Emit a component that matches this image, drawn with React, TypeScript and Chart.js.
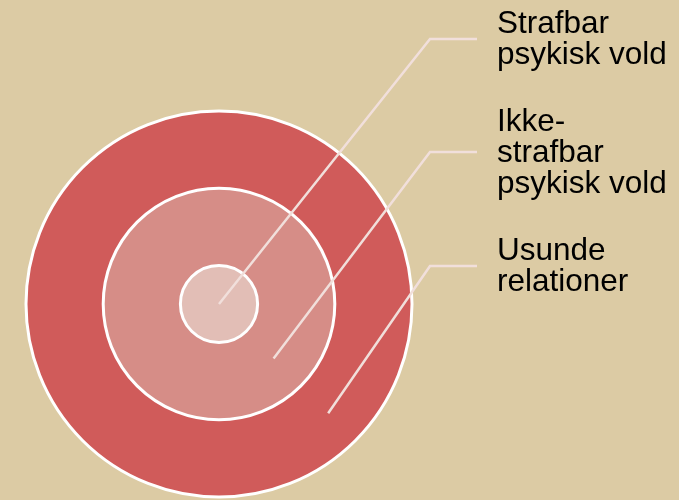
import React, { useEffect, useRef } from "react";
import { Chart, registerables } from "chart.js";

Chart.register(...registerables);

// Rings, from the outermost to the innermost
const ringNames = ["Usunde relationer", "Ikke-strafbar psykisk vold", "Strafbar psykisk vold"];
const ringLabelLines = [["Usunde", "relationer"], ["Ikke-", "strafbar", "psykisk vold"], ["Strafbar", "psykisk vold"]];
const ringValues = [1, 1, 1];
const ringWeights = [2, 2, 1];
const ringColors = ["#d05b5a", "#d68d87", "#e2beb6"];

const BG = "#dccba4";
const LINE_COLOR = "#f1dfdb";
const ELBOW_Y = [266, 152, 39];
const ELBOW_X = 430;
const LINE_END_X = 477;
const TEXT_X = 497;
const FONT_SIZE = 31.5;
const LINE_HEIGHT = 31;

const leaderPlugin = {
  id: "leaders",
  afterDatasetsDraw(chart: any) {
    const ctx = chart.ctx;
    ctx.save();
    // white ring borders
    ringNames.forEach((_, i) => {
      const arc = chart.getDatasetMeta(i).data[0];
      if (!arc) return;
      const { x, y, outerRadius } = arc.getProps(["x", "y", "outerRadius"], true);
      ctx.strokeStyle = "#ffffff";
      ctx.lineWidth = 3;
      ctx.beginPath();
      ctx.arc(x, y, outerRadius, 0, Math.PI * 2);
      ctx.stroke();
    });
    ringNames.forEach((_, i) => {
      const arc = chart.getDatasetMeta(i).data[0];
      if (!arc) return;
      const { x, y, innerRadius, outerRadius } = arc.getProps(["x", "y", "innerRadius", "outerRadius"], true);
      const r = i === ringNames.length - 1 ? 0 : (innerRadius + outerRadius) / 2;
      const a = Math.PI / 4;
      const sx = x + r * Math.cos(a);
      const sy = y + r * Math.sin(a);
      ctx.strokeStyle = LINE_COLOR;
      ctx.lineWidth = 2.5;
      ctx.lineCap = "butt";
      ctx.lineJoin = "miter";
      ctx.beginPath();
      ctx.moveTo(sx, sy);
      ctx.lineTo(ELBOW_X, ELBOW_Y[i]);
      ctx.lineTo(LINE_END_X, ELBOW_Y[i]);
      ctx.stroke();

      const lines = ringLabelLines[i];
      ctx.fillStyle = "#000000";
      ctx.font = `${FONT_SIZE}px "Liberation Sans", Arial, sans-serif`;
      ctx.textAlign = "left";
      ctx.textBaseline = "alphabetic";
      const mid = ELBOW_Y[i] + 9.5;
      lines.forEach((t, k) => {
        const by = mid + (k - (lines.length - 1) / 2) * LINE_HEIGHT;
        ctx.fillText(t, TEXT_X, by);
      });
    });
    ctx.restore();
  },
};

export default function App() {
  const ref = useRef<HTMLCanvasElement>(null);
  useEffect(() => {
    if (!ref.current) return;
    const chart = new Chart(ref.current, {
      type: "doughnut",
      data: {
        labels: ["ring"],
        datasets: ringNames.map((name, i) => ({
          label: name,
          data: [ringValues[i]],
          weight: ringWeights[i],
          backgroundColor: [ringColors[i]],
          borderWidth: 0,
        })) as any,
      },
      options: {
        responsive: false,
        animation: false,
        events: [],
        cutout: 0,
        radius: 193,
        layout: { padding: { left: 119, right: 360, top: 204, bottom: 96 } },
        plugins: {
          legend: { display: false },
          tooltip: { enabled: false },
          title: { display: false },
        },
      } as any,
      plugins: [leaderPlugin],
    });
    return () => chart.destroy();
  }, []);
  return (
    <div style={{ position: "fixed", left: 0, top: 0, width: 679, height: 500, background: BG }}>
      <canvas ref={ref} width={679} height={500} style={{ display: "block" }} />
    </div>
  );
}
